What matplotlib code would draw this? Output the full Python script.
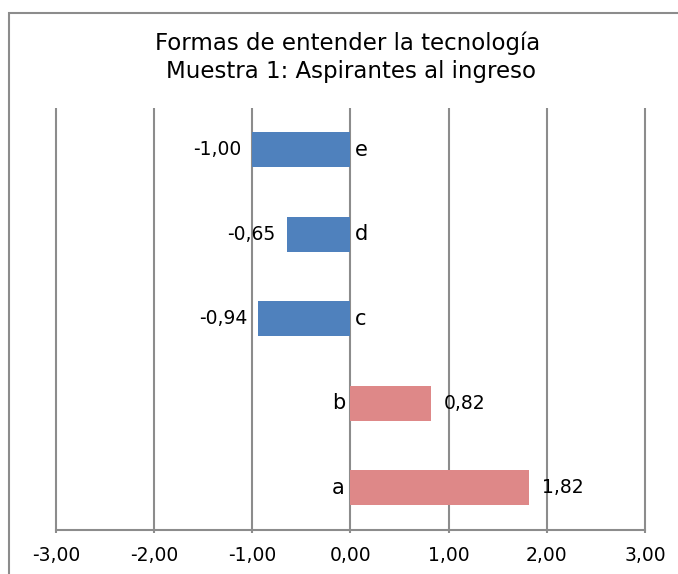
import matplotlib.pyplot as plt
from matplotlib.patches import Rectangle

# datos
categorias = ['a', 'b', 'c', 'd', 'e']
valores = [1.82, 0.82, -0.94, -0.65, -1.00]
ticks_x = [-3, -2, -1, 0, 1, 2, 3]

azul = '#4F81BD'
rosa = '#DE8888'
gris = '#8C8C8C'

fig = plt.figure(figsize=(6.78, 5.74), dpi=100)
ax = fig.add_axes([0.0826, 0.0767, 0.8687, 0.736])

pos = list(range(len(categorias)))
colores = [rosa if v > 0 else azul for v in valores]
ax.barh(pos, valores, height=0.41, color=colores, zorder=3)

ax.set_xlim(-3, 3)
ax.set_ylim(-0.5, 4.5)
ax.set_xticks(ticks_x)
ax.set_xticklabels([f'{t:.2f}'.replace('.', ',') for t in ticks_x], fontsize=13.5)
ax.set_yticks([])
# lineas de division verticales (sin recorte en los extremos)
ax.vlines(ticks_x, -0.5, 4.5, color=gris, lw=1.5, zorder=1, clip_on=False)
ax.tick_params(axis='x', length=2.5, width=1.5, color=gris, pad=9)
for s in ['top', 'right', 'left']:
    ax.spines[s].set_visible(False)
ax.spines['bottom'].set_color(gris)
ax.spines['bottom'].set_linewidth(1.5)

for p, v, c in zip(pos, valores, categorias):
    txt = f'{v:.2f}'.replace('.', ',')
    if v > 0:
        ax.annotate(txt, (v, p), xytext=(9, 0), textcoords='offset points',
                    ha='left', va='center', fontsize=13.5)
        ax.annotate(c, (0, p), xytext=(-4, 0), textcoords='offset points',
                    ha='right', va='center', fontsize=15)
    else:
        ax.annotate(txt, (v, p), xytext=(-8, 0), textcoords='offset points',
                    ha='right', va='center', fontsize=13.5)
        ax.annotate(c, (0, p), xytext=(3.5, 0), textcoords='offset points',
                    ha='left', va='center', fontsize=15)

fig.text(0.5125, 0.925, 'Formas de entender la tecnología', ha='center', va='center', fontsize=16.5)
fig.text(0.5175, 0.876, 'Muestra 1: Aspirantes al ingreso', ha='center', va='center', fontsize=16.5)

# marco del gráfico
fig.patches.append(Rectangle((9 / 678, -0.05), 1.0, 1 - 13 / 574 + 0.05,
                             transform=fig.transFigure, fill=False,
                             edgecolor=gris, lw=1.5))

fig.savefig('out.png', dpi=100)
